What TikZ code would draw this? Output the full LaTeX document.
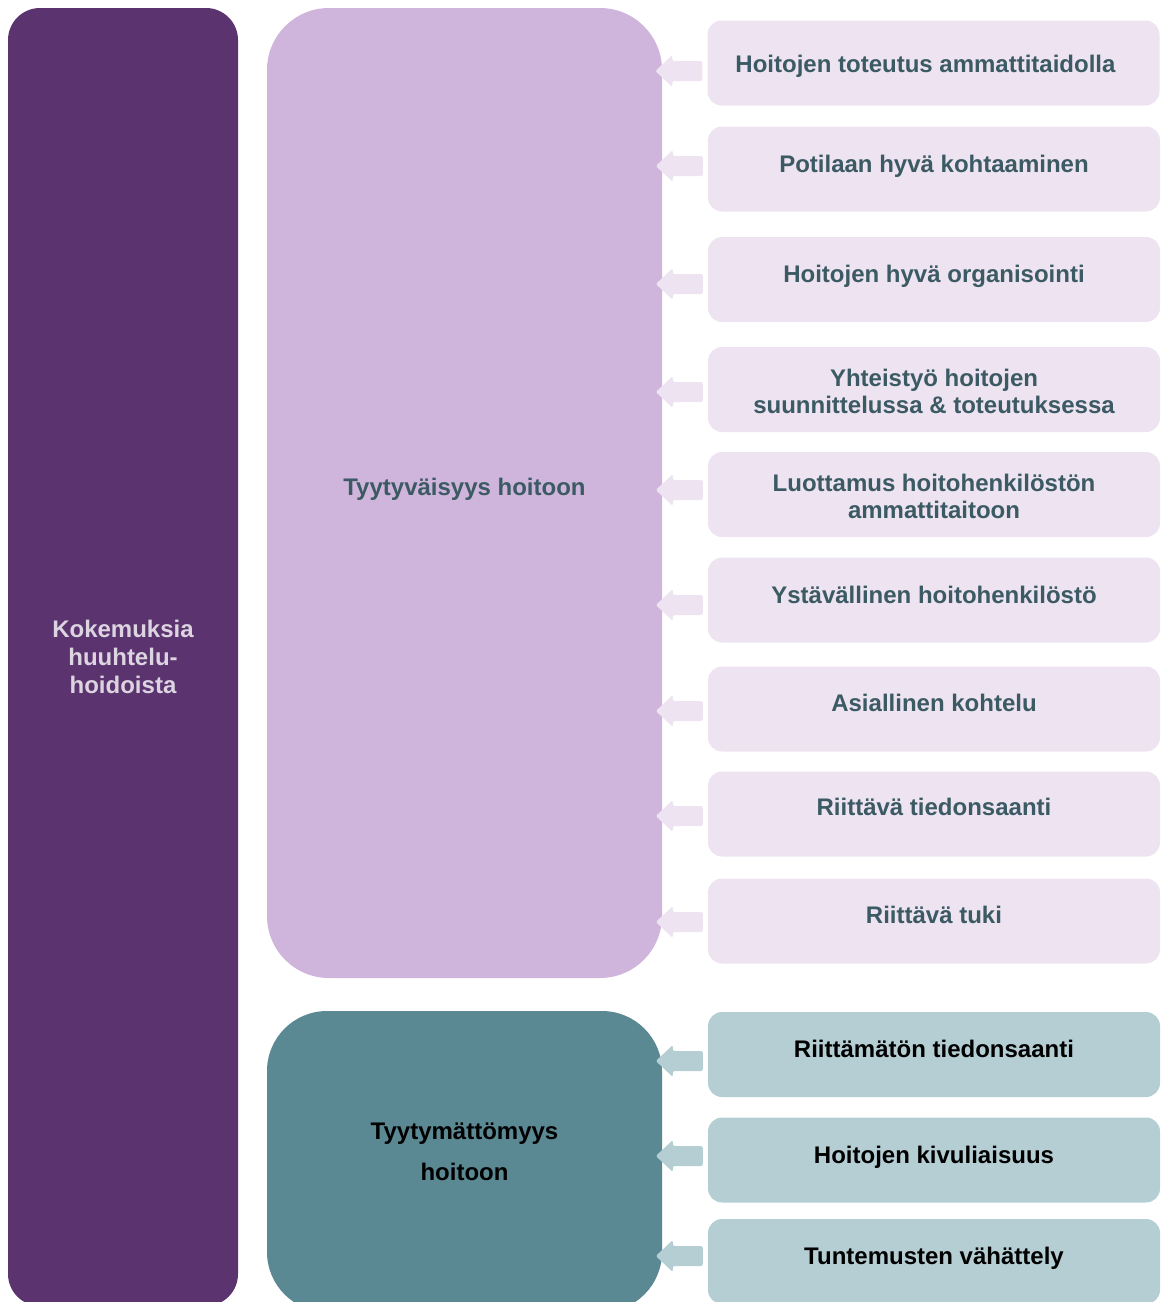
\documentclass[tikz,border=0pt]{standalone}
\usepackage{fontspec}
\setmainfont{Liberation Sans}
\definecolor{leftc}{HTML}{5B346F}
\definecolor{lefttext}{HTML}{DCD4E0}
\definecolor{midc}{HTML}{CFB5DC}
\definecolor{lightc}{HTML}{EDE3F1}
\definecolor{textc}{HTML}{3B5A63}
\definecolor{tealc}{HTML}{5A8893}
\definecolor{lteal}{HTML}{B5CED4}
\tikzset{
  basefont/.style={font=\fontsize{24}{27.5}\selectfont\bfseries},
  lbox/.style={basefont, fill=leftc, text=lefttext, rounded corners=32pt, minimum width=230pt, minimum height=1298pt, inner sep=0pt, align=center, font=\fontsize{24}{28}\selectfont\bfseries},
  mbox/.style={fill=midc, rounded corners=62pt, minimum width=395pt, minimum height=970pt, inner sep=0pt},
  tbox/.style={fill=tealc, rounded corners=60pt, minimum width=395pt, minimum height=301pt, inner sep=0pt},
  mlab/.style={basefont, text=textc, align=center, inner sep=0pt},
  tlab/.style={text=black, align=center, inner sep=0pt, font=\fontsize{24}{41}\selectfont\bfseries},
  rbox/.style={fill=lightc, rounded corners=14pt, minimum width=452pt, minimum height=85pt, inner sep=0pt},
  rtbox/.style={rbox, fill=lteal},
  rlab/.style={basefont, text=textc, align=center, inner sep=0pt},
  rtlab/.style={rlab, text=black},
  larrow/.pic={\fill[pic actions, rounded corners=2pt] (0,-10) -- (-30,-10) -- (-30,-16) -- (-47,0) -- (-30,16) -- (-30,10) -- (0,10) -- cycle;}
}
\begin{document}
\begin{tikzpicture}[x=1pt,y=-1pt]
\useasboundingbox (0,0) rectangle (1162,1302);
\clip (0,0) rectangle (1162,1302);
\node[lbox] (left) at (123,657) {Kokemuksia\\huuhtelu-\\hoidoista};
\node[mbox, label={[mlab, yshift=4pt]center:Tyytyväisyys hoitoon}] (mid) at (464.5,493) {};
\node[tbox, label={[tlab, yshift=9.5pt]center:Tyytymättömyys\\hoitoon}] (teal) at (464.5,1161.5) {};
\node[rbox, label={[rlab, xshift=-8pt, yshift=-3pt]center:Hoitojen toteutus ammattitaidolla}] (r1) at (933.5,63) {};
\node[rbox, label={[rlab, yshift=3pt]center:Potilaan hyvä kohtaaminen}] (r2) at (934,169) {};
\node[rbox, label={[rlab, yshift=3pt]center:Hoitojen hyvä organisointi}] (r3) at (934,279.5) {};
\node[rbox, label={[rlab, yshift=-2pt]center:Yhteistyö hoitojen\\suunnittelussa \& toteutuksessa}] (r4) at (934,389.5) {};
\node[rbox, label={[rlab, yshift=-2pt]center:Luottamus hoitohenkilöstön\\ammattitaitoon}] (r5) at (934,494.5) {};
\node[rbox, label={[rlab, yshift=5pt]center:Ystävällinen hoitohenkilöstö}] (r6) at (934,600) {};
\node[rbox, label={[rlab, yshift=6pt]center:Asiallinen kohtelu}] (r7) at (934,709) {};
\node[rbox, label={[rlab, yshift=7pt]center:Riittävä tiedonsaanti}] (r8) at (934,814) {};
\node[rbox, label={[rlab, yshift=6pt]center:Riittävä tuki}] (r9) at (934,921) {};
\node[rtbox, label={[rtlab, yshift=6pt]center:Riittämätön tiedonsaanti}] (r10) at (934,1054.5) {};
\node[rtbox, label={[rtlab, yshift=3pt]center:Hoitojen kivuliaisuus}] (r11) at (934,1160) {};
\node[rtbox, label={[rtlab, yshift=3pt]center:Tuntemusten vähättely}] (r12) at (934,1261.5) {};
\foreach \n/\y in {1/71,2/166,3/284,4/392,5/490,6/605,7/711,8/816,9/922}{
  \coordinate (a\n) at (0,\y);
  \pic[fill=lightc] at ([xshift=-5pt]r\n.west |- a\n) {larrow};
}
\foreach \n/\y in {10/1061,11/1156,12/1256}{
  \coordinate (a\n) at (0,\y);
  \pic[fill=lteal] at ([xshift=-5pt]r\n.west |- a\n) {larrow};
}
\end{tikzpicture}
\end{document}
